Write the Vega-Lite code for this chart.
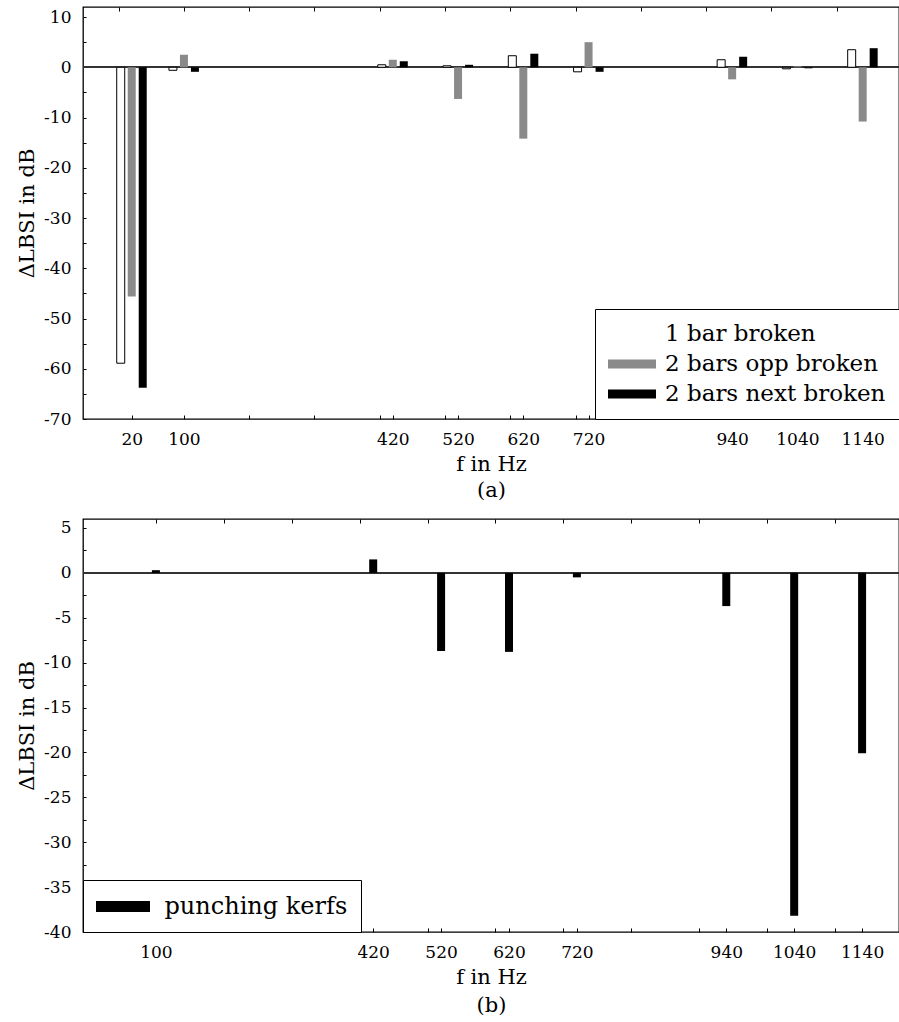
{
  "$schema": "https://vega.github.io/schema/vega-lite/v6.json",
  "padding": {"left": 15, "top": 5, "right": 0, "bottom": 0},
  "background": "white",
  "spacing": 16,
  "config": {
    "font": "DejaVu Serif",
    "view": {"stroke": "black", "strokeWidth": 1.3},
    "axis": {
      "grid": false, "domain": false, "tickColor": "black", "tickSize": -4, "tickWidth": 1,
      "labelFont": "DejaVu Serif", "labelFontSize": 17, "labelColor": "black", "labelPadding": 16,
      "labelOverlap": false, "labelFlush": false,
      "titleFont": "DejaVu Serif", "titleFontSize": 21, "titleFontWeight": "normal", "titleColor": "black"
    },
    "legend": {
      "title": null, "offset": 0, "strokeColor": "black", "fillColor": "white",
      "labelFont": "DejaVu Serif", "labelColor": "black", "labelLimit": 500,
      "symbolStrokeWidth": 0, "symbolOpacity": 1
    }
  },
  "datasets": {
    "top": [
      {"f": 20, "series": "1 bar broken", "value": -58.9},
      {"f": 20, "series": "2 bars opp broken", "value": -45.6},
      {"f": 20, "series": "2 bars next broken", "value": -63.8},
      {"f": 100, "series": "1 bar broken", "value": -0.6},
      {"f": 100, "series": "2 bars opp broken", "value": 2.5},
      {"f": 100, "series": "2 bars next broken", "value": -0.9},
      {"f": 420, "series": "1 bar broken", "value": 0.5},
      {"f": 420, "series": "2 bars opp broken", "value": 1.5},
      {"f": 420, "series": "2 bars next broken", "value": 1.2},
      {"f": 520, "series": "1 bar broken", "value": 0.3},
      {"f": 520, "series": "2 bars opp broken", "value": -6.3},
      {"f": 520, "series": "2 bars next broken", "value": 0.5},
      {"f": 620, "series": "1 bar broken", "value": 2.3},
      {"f": 620, "series": "2 bars opp broken", "value": -14.2},
      {"f": 620, "series": "2 bars next broken", "value": 2.7},
      {"f": 720, "series": "1 bar broken", "value": -0.9},
      {"f": 720, "series": "2 bars opp broken", "value": 5.0},
      {"f": 720, "series": "2 bars next broken", "value": -0.9},
      {"f": 940, "series": "1 bar broken", "value": 1.5},
      {"f": 940, "series": "2 bars opp broken", "value": -2.4},
      {"f": 940, "series": "2 bars next broken", "value": 2.1},
      {"f": 1040, "series": "1 bar broken", "value": -0.3},
      {"f": 1040, "series": "2 bars opp broken", "value": 0.2},
      {"f": 1040, "series": "2 bars next broken", "value": -0.2},
      {"f": 1140, "series": "1 bar broken", "value": 3.5},
      {"f": 1140, "series": "2 bars opp broken", "value": -10.8},
      {"f": 1140, "series": "2 bars next broken", "value": 3.8}
    ],
    "bottom": [
      {"f": 100, "series": "punching kerfs", "value": 0.3},
      {"f": 420, "series": "punching kerfs", "value": 1.5},
      {"f": 520, "series": "punching kerfs", "value": -8.7},
      {"f": 620, "series": "punching kerfs", "value": -8.8},
      {"f": 720, "series": "punching kerfs", "value": -0.5},
      {"f": 940, "series": "punching kerfs", "value": -3.7},
      {"f": 1040, "series": "punching kerfs", "value": -38.2},
      {"f": 1140, "series": "punching kerfs", "value": -20.1}
    ]
  },
  "resolve": {"scale": {"color": "independent"}, "legend": {"color": "independent"}},
  "vconcat": [
    {
      "width": 816, "height": 412,
      "data": {"name": "top"},
      "encoding": {
        "y": {"field": "value", "type": "quantitative",
          "scale": {"domain": [-70, 12], "nice": false, "zero": false},
          "axis": {"title": "ΔLBSI in dB", "titlePadding": 6,
            "values": [-70,-65,-60,-55,-50,-45,-40,-35,-30,-25,-20,-15,-10,-5,0,5,10],
            "labelExpr": "datum.value % 10 == 0 ? ('' + datum.value) : ''", "tickSize": -3, "labelPadding": 15}},
        "color": {"field": "series", "type": "nominal",
          "scale": {"domain": ["1 bar broken", "2 bars opp broken", "2 bars next broken"], "range": ["white", "#8a8a8a", "black"]},
          "legend": {"orient": "bottom-right", "labelFontSize": 23, "padding": 13, "rowPadding": 6,
            "symbolOffset": 12, "labelOffset": 21,
            "symbolType": "M-2,-0.38H2V0.38H-2Z", "symbolSize": 576}}
      },
      "layer": [
        {
          "mark": {"type": "rule", "color": "#333", "strokeWidth": 1.5},
          "encoding": {"y": {"datum": 0}, "color": {"value": "#333"}}
        },
        {
          "transform": [{"filter": "datum.series == '1 bar broken'"}],
          "mark": {"type": "bar", "width": 8, "xOffset": -11, "stroke": "black", "strokeWidth": 1},
          "encoding": {
            "x": {"field": "f", "type": "quantitative", "scale": {"domain": [-47, 1188], "nice": false, "zero": false},
              "axis": {"orient": "bottom", "title": ["f in Hz", "(a)"], "titleLineHeight": 26, "titlePadding": 6,
                "values": [20,100,200,300,400,420,500,520,600,620,700,720,800,900,940,1000,1040,1100,1140],
                "labelExpr": "indexof([20,100,420,520,620,720,940,1040,1140], datum.value) >= 0 ? ('' + datum.value) : ''"}}
          }
        },
        {
          "transform": [{"filter": "datum.series == '2 bars opp broken'"}],
          "mark": {"type": "bar", "width": 8, "xOffset": 0},
          "encoding": {
            "x": {"field": "f", "type": "quantitative", "scale": {"domain": [-47, 1188], "nice": false, "zero": false},
              "axis": {"orient": "top", "title": null, "labels": false,
                "values": [0,100,200,300,400,500,600,700,800,900,1000,1100]}}
          }
        },
        {
          "transform": [{"filter": "datum.series == '2 bars next broken'"}],
          "mark": {"type": "bar", "width": 8, "xOffset": 11},
          "encoding": {
            "x": {"field": "f", "type": "quantitative", "scale": {"domain": [-47, 1188], "nice": false, "zero": false}, "axis": null}
          }
        }
      ],
      "resolve": {"axis": {"x": "independent"}}
    },
    {
      "width": 816, "height": 413,
      "data": {"name": "bottom"},
      "encoding": {
        "y": {"field": "value", "type": "quantitative",
          "scale": {"domain": [-40, 6], "nice": false, "zero": false},
          "axis": {"title": "ΔLBSI in dB", "titlePadding": 6,
            "values": [-40,-37.5,-35,-32.5,-30,-27.5,-25,-22.5,-20,-17.5,-15,-12.5,-10,-7.5,-5,-2.5,0,2.5,5],
            "labelExpr": "datum.value % 5 == 0 ? ('' + datum.value) : ''", "tickSize": -3, "labelPadding": 15}},
        "color": {"field": "series", "type": "nominal",
          "scale": {"domain": ["punching kerfs"], "range": ["black"]},
          "legend": {"orient": "bottom-left", "labelFontSize": 24, "padding": 13,
            "symbolOffset": 13.5, "labelOffset": 28,
            "symbolType": "M-2,-0.4H2V0.4H-2Z", "symbolSize": 729}}
      },
      "layer": [
        {
          "mark": {"type": "rule", "color": "#333", "strokeWidth": 1.5},
          "encoding": {"y": {"datum": 0}, "color": {"value": "#333"}}
        },
        {
          "mark": {"type": "bar", "width": 8},
          "encoding": {
            "x": {"field": "f", "type": "quantitative", "scale": {"domain": [0, 1187], "nice": false, "zero": false},
              "axis": {"orient": "bottom", "title": ["f in Hz", "(b)"], "titleLineHeight": 28, "titlePadding": 6,
                "values": [100,200,300,400,420,500,520,600,620,700,720,800,900,940,1000,1040,1100,1140],
                "labelExpr": "indexof([100,420,520,620,720,940,1040,1140], datum.value) >= 0 ? ('' + datum.value) : ''"}}
          }
        },
        {
          "mark": {"type": "bar", "width": 8, "opacity": 0},
          "encoding": {
            "x": {"field": "f", "type": "quantitative", "scale": {"domain": [0, 1187], "nice": false, "zero": false},
              "axis": {"orient": "top", "title": null, "labels": false,
                "values": [100,200,300,400,500,600,700,800,900,1000,1100]}}
          }
        }
      ],
      "resolve": {"axis": {"x": "independent"}}
    }
  ]
}
